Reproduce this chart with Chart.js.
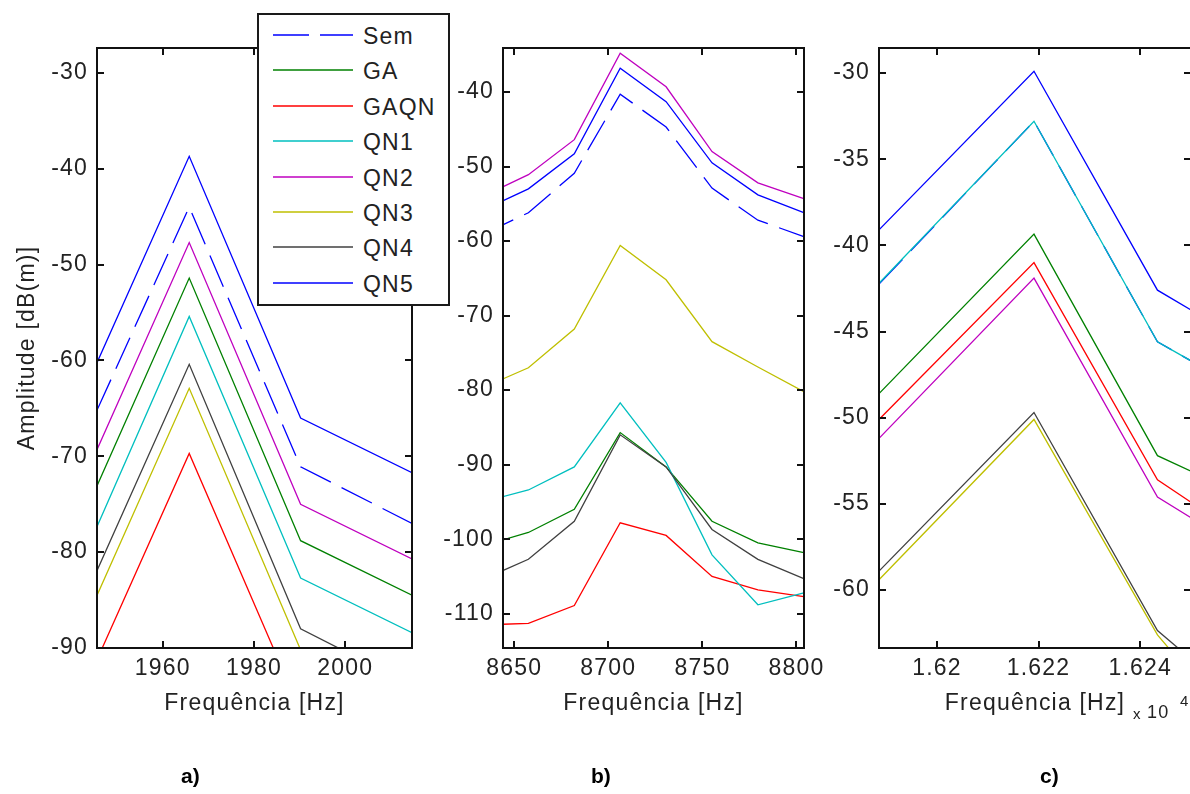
<!DOCTYPE html>
<html>
<head>
<meta charset="utf-8">
<script src="https://cdn.jsdelivr.net/npm/chart.js@4.4.0/dist/chart.umd.min.js"></script>
<style>
  html, body { margin: 0; padding: 0; background: #fff; }
  body { position: relative; width: 1190px; height: 794px; overflow: hidden; font-family: "Liberation Sans", Arial, sans-serif; }
  canvas { position: absolute; top: 0; }
  #legend { position: absolute; left: 257px; top: 13px; width: 193px; height: 293px; box-sizing: border-box;
            border: 2px solid #1a1a1a; background: #fff; }
  .row { position: absolute; left: 0; height: 30px; }
  .row svg { position: absolute; left: 14px; top: 10px; }
  .row span { position: absolute; left: 104px; top: 1px; font-size: 23px; letter-spacing: 1.2px; color: #222; white-space: nowrap; }
  .tag { position: absolute; top: 764px; font: bold 21px "Liberation Sans", Arial, sans-serif; color: #000; }
</style>
</head>
<body>
<canvas id="ca" width="420" height="794" style="left:0"></canvas>
<canvas id="cb" width="420" height="794" style="left:420px"></canvas>
<canvas id="cc" width="400" height="794" style="left:820px"></canvas>
<div id="legend"></div>
<div class="tag" style="left:181px">a)</div>
<div class="tag" style="left:591px">b)</div>
<div class="tag" style="left:1040px">c)</div>
<script>
// series, in the order they were plotted
const seriesNames = ['Sem', 'GA', 'GAQN', 'QN1', 'QN2', 'QN3', 'QN4', 'QN5'];
const seriesColors = ['#0000ff', '#008000', '#ff0000', '#00bfbf', '#bf00bf', '#bfbf00', '#404040', '#0000ff'];
const semDash = [34, 12];

const xTitle = 'Frequência [Hz]';
const yTitle = 'Amplitude [dB(m)]';

// --- panel a) ---
const freqA = [1941.4, 1965.8, 1990.2, 2014.6];
const semA  = [-69.6, -44.0, -71.1, -77.0];
const gaA   = [-77.6, -51.4, -78.8, -84.5];
const gaqnA = [-95.7, -69.7, -96.6, -102.0];
const qn1A  = [-81.9, -55.4, -82.7, -88.4];
const qn2A  = [-73.8, -47.7, -75.0, -80.7];
const qn3A  = [-89.0, -62.9, -90.2, -96.0];
const qn4A  = [-86.4, -60.4, -88.0, -93.9];
const qn5A  = [-64.7, -38.7, -66.0, -71.7];
const xTicksA = [1960, 1980, 2000];
const yTicksA = [-90, -80, -70, -60, -50, -40, -30];

// --- panel b) ---
const freqB = [8633.1, 8657.5, 8681.9, 8706.3, 8730.7, 8755.1, 8779.5, 8803.9];
const semB  = [-59.1, -56.2, -50.9, -40.3, -44.7, -52.9, -57.2, -59.4];
const gaB   = [-100.9, -99.1, -96.0, -85.7, -90.3, -97.6, -100.5, -101.8];
const gaqnB = [-111.5, -111.3, -108.9, -97.8, -99.5, -105.0, -106.8, -107.7];
const qn1B  = [-95.0, -93.4, -90.3, -81.7, -89.7, -102.1, -108.8, -107.2];
const qn2B  = [-54.0, -51.1, -46.4, -34.8, -39.3, -48.0, -52.2, -54.3];
const qn3B  = [-79.7, -77.0, -71.8, -60.6, -65.2, -73.5, -76.9, -80.2];
const qn4B  = [-105.4, -102.7, -97.6, -86.0, -90.3, -98.7, -102.7, -105.3];
const qn5B  = [-55.9, -53.0, -48.3, -36.8, -41.3, -49.5, -53.8, -56.2];
const xTicksB = [8650, 8700, 8750, 8800];
const yTicksB = [-110, -100, -90, -80, -70, -60, -50, -40];

// --- panel c) ---
const freqC = [16188.6, 16219.1, 16243.4, 16250.0];
const semC  = [-42.25, -32.8, -45.6, -46.7];
const gaC   = [-48.6, -39.35, -52.2, -53.1];
const gaqnC = [-50.1, -41.0, -53.6, -54.9];
const qn1C  = [-42.2, -32.8, -45.6, -46.7];
const qn2C  = [-51.2, -41.9, -54.6, -55.8];
const qn3C  = [-59.4, -50.1, -62.6, -64.9];
const qn4C  = [-58.9, -49.7, -62.35, -64.0];
const qn5C  = [-39.1, -29.9, -42.6, -43.75];
const xTicksC = [16200, 16220, 16240];
const yTicksC = [-60, -55, -50, -45, -40, -35, -30];

const textColor = '#222';
const font = { family: '"Liberation Sans", Arial, sans-serif', size: 23 };

// MATLAB-ish text spacing
const spacingPlugin = {
  id: 'spacing',
  beforeUpdate(chart) { chart.ctx.letterSpacing = '1.2px'; },
  beforeDraw(chart) { chart.ctx.letterSpacing = '1.2px'; }
};

// box around the axes with inward ticks on all four sides
const boxPlugin = {
  id: 'box',
  afterDatasetsDraw(chart) {
    const { ctx, chartArea: a, scales: { x, y } } = chart;
    const len = 7;
    ctx.save();
    ctx.strokeStyle = '#111';
    ctx.lineWidth = 2;
    ctx.strokeRect(a.left, a.top, a.right - a.left, a.bottom - a.top);
    ctx.beginPath();
    x.ticks.forEach(t => {
      const px = Math.round(x.getPixelForValue(t.value));
      ctx.moveTo(px, a.bottom); ctx.lineTo(px, a.bottom - len);
      ctx.moveTo(px, a.top); ctx.lineTo(px, a.top + len);
    });
    y.ticks.forEach(t => {
      const py = Math.round(y.getPixelForValue(t.value));
      ctx.moveTo(a.left, py); ctx.lineTo(a.left + len, py);
      ctx.moveTo(a.right, py); ctx.lineTo(a.right - len, py);
    });
    ctx.stroke();
    ctx.restore();
  }
};

// the "x 10^4" multiplier under panel c)
const expPlugin = {
  id: 'exp',
  afterDraw(chart) {
    const { ctx, chartArea: a } = chart;
    ctx.save();
    ctx.fillStyle = textColor;
    ctx.textBaseline = 'middle';
    ctx.textAlign = 'left';
    ctx.font = '15px "Liberation Sans", Arial, sans-serif';
    ctx.fillText('x', a.right - 58, a.bottom + 67);
    ctx.font = '18px "Liberation Sans", Arial, sans-serif';
    ctx.fillText('10', a.right - 44, a.bottom + 65);
    ctx.font = '15px "Liberation Sans", Arial, sans-serif';
    ctx.fillText('4', a.right - 11, a.bottom + 54);
    ctx.restore();
  }
};

function makePanel(id, p) {
  const datasets = seriesNames.map((name, i) => ({
    label: name,
    data: p.freq.map((f, k) => ({ x: f, y: p.values[i][k] })),
    borderColor: seriesColors[i],
    borderWidth: 1.3,
    borderDash: name === 'Sem' ? semDash : [],
    pointRadius: 0,
    tension: 0,
    fill: false,
    order: seriesNames.length - 1 - i
  }));

  return new Chart(document.getElementById(id), {
    type: 'line',
    data: { datasets },
    options: {
      responsive: false,
      animation: false,
      events: [],
      layout: { padding: p.padding },
      plugins: { legend: { display: false }, tooltip: { enabled: false } },
      scales: {
        x: {
          type: 'linear',
          min: p.xMin, max: p.xMax,
          grid: { display: false, drawTicks: false },
          border: { display: false },
          afterBuildTicks: s => { s.ticks = p.xTicks.map(v => ({ value: v })); },
          afterFit: s => { s.height = 80; s.paddingLeft = 0; s.paddingRight = 0; },
          ticks: { color: textColor, font, padding: 7, maxRotation: 0, autoSkip: false, callback: p.xFmt },
          title: { display: true, text: xTitle, color: textColor, font, padding: { top: 0, bottom: 11 } }
        },
        y: {
          type: 'linear',
          min: p.yMin, max: p.yMax,
          grid: { display: false, drawTicks: false },
          border: { display: false },
          afterBuildTicks: s => { s.ticks = p.yTicks.map(v => ({ value: v })); },
          afterFit: s => { s.width = p.yWidth; s.paddingTop = 0; s.paddingBottom = 0; },
          ticks: { color: textColor, font, padding: 9, autoSkip: false, callback: v => String(v) },
          title: p.yTitle
            ? { display: true, text: p.yTitle, color: textColor, font, padding: { top: 14, bottom: 0 } }
            : { display: false }
        }
      }
    },
    plugins: [spacingPlugin, boxPlugin].concat(p.extra || [])
  });
}

makePanel('ca', {
  freq: freqA,
  values: [semA, gaA, gaqnA, qn1A, qn2A, qn3A, qn4A, qn5A],
  xMin: 1945.6, xMax: 2014.6, yMin: -90, yMax: -27.4,
  xTicks: xTicksA, yTicks: yTicksA,
  xFmt: v => String(v),
  yWidth: 97, yTitle: yTitle,
  padding: { top: 48, right: 8, bottom: 66, left: 0 }
});

makePanel('cb', {
  freq: freqB,
  values: [semB, gaB, gaqnB, qn1B, qn2B, qn3B, qn4B, qn5B],
  xMin: 8644, xMax: 8804, yMin: -114.6, yMax: -34.1,
  xTicks: xTicksB, yTicks: yTicksB,
  xFmt: v => String(v),
  yWidth: 83,
  padding: { top: 48, right: 36, bottom: 66, left: 0 }
});

makePanel('cc', {
  freq: freqC,
  values: [semC, gaC, gaqnC, qn1C, qn2C, qn3C, qn4C, qn5C],
  xMin: 16188.6, xMax: 16250, yMin: -63.36, yMax: -28.55,
  xTicks: xTicksC, yTicks: yTicksC,
  xFmt: v => String(+(v / 1e4).toFixed(3)),
  yWidth: 59,
  padding: { top: 48, right: 29, bottom: 66, left: 0 },
  extra: [expPlugin]
});

// legend box (drawn as HTML, overlapping panel a like the original)
const legend = document.getElementById('legend');
seriesNames.forEach((name, i) => {
  const row = document.createElement('div');
  row.className = 'row';
  row.style.top = (7 + i * 35.4) + 'px';
  const dash = name === 'Sem' ? ' stroke-dasharray="36 11"' : '';
  row.innerHTML =
    '<svg width="80" height="6"><line x1="0" y1="3" x2="80" y2="3" stroke="' + seriesColors[i] +
    '" stroke-width="1.6"' + dash + '/></svg><span>' + name + '</span>';
  legend.appendChild(row);
});
</script>
</body>
</html>
